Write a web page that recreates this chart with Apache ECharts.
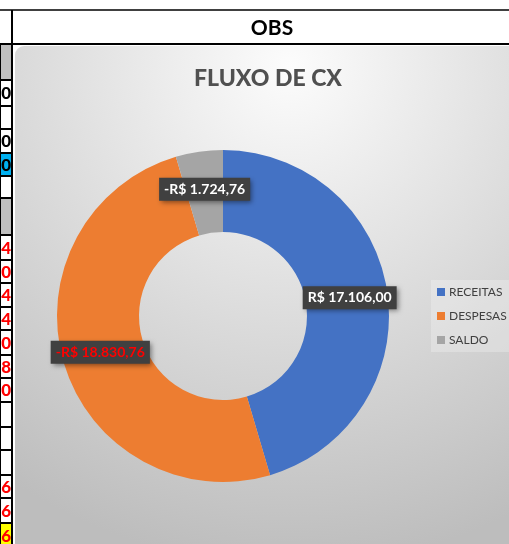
<!DOCTYPE html>
<html>
<head>
<meta charset="utf-8">
<script src="https://cdn.jsdelivr.net/npm/echarts@6/dist/echarts.min.js"></script>
<style>
  html, body { margin: 0; padding: 0; background: #fff; }
  #chart { width: 509px; height: 544px; }
</style>
</head>
<body>
<div id="chart"></div>
<script>
// dados do gráfico
const categorias = ["RECEITAS", "DESPESAS", "SALDO"];
const valores = [17106.0, -18830.76, -1724.76];
const cores = ["#4472C4", "#ED7D31", "#A5A5A5"];
const corRotulo = ["#ffffff", "#ff0000", "#ffffff"];

// pedaços das células da planilha à esquerda (só decoração)
const celulasEsq = [
  [44, 80, "#bfbfbf", ""],
  [80, 106, "#ffffff", "0", "#000"],
  [106, 129, "#ffffff", ""],
  [129, 153, "#ffffff", "0", "#000"],
  [153, 176, "#00b0f0", "0", "#000"],
  [176, 198, "#ffffff", ""],
  [198, 235, "#bfbfbf", ""],
  [235, 260, "#ffffff", "4", "#ff0000"],
  [260, 283, "#ffffff", "0", "#ff0000"],
  [283, 307, "#ffffff", "4", "#ff0000"],
  [307, 330, "#ffffff", "4", "#ff0000"],
  [330, 355, "#ffffff", "0", "#ff0000"],
  [355, 378, "#ffffff", "8", "#ff0000"],
  [378, 402, "#ffffff", "0", "#ff0000"],
  [402, 427, "#ffffff", ""],
  [427, 450, "#ffffff", ""],
  [450, 475, "#ffffff", ""],
  [475, 498, "#ffffff", "6", "#ff0000"],
  [498, 523, "#ffffff", "6", "#ff0000"],
  [523, 548, "#ffff00", "6", "#ff0000"]
];

function formatBRL(v) {
  let s = Math.abs(v).toFixed(2).split(".");
  let inteiro = s[0].replace(/\B(?=(\d{3})+(?!\d))/g, ".");
  return (v < 0 ? "-" : "") + "R$ " + inteiro + "," + s[1];
}

let chart = echarts.init(document.getElementById("chart"));

let graficos = [];
// fundo da área do gráfico
graficos.push({
  type: "rect",
  z: -10,
  shape: { x: 15, y: 46, width: 500, height: 505, r: [9, 0, 0, 0] },
  style: {
    fill: new echarts.graphic.RadialGradient(0.55, 0.04, 1.0, [
      { offset: 0, color: "#fcfcfc" },
      { offset: 1, color: "#bdbdbd" }
    ])
  }
});
celulasEsq.forEach((c) => {
  graficos.push({
    type: "rect",
    z: -5,
    shape: { x: 0, y: c[0], width: 12, height: c[1] - c[0] },
    style: { fill: c[2], stroke: "#000", lineWidth: 2 }
  });
  if (c[3]) {
    graficos.push({
      type: "text",
      z: -4,
      x: 11,
      y: (c[0] + c[1]) / 2 + 1,
      style: {
        text: c[3],
        fill: c[4],
        font: "900 17px Lato",
        align: "right",
        verticalAlign: "middle"
      }
    });
  }
});
// linhas do cabeçalho
graficos.push({
  type: "line", z: -4,
  shape: { x1: 0, y1: 10, x2: 509, y2: 10 },
  style: { stroke: "#000", lineWidth: 1.5 }
});
graficos.push({
  type: "line", z: -4,
  shape: { x1: 0, y1: 44, x2: 509, y2: 44 },
  style: { stroke: "#000", lineWidth: 2 }
});
graficos.push({
  type: "line", z: -4,
  shape: { x1: 12, y1: 10, x2: 12, y2: 544 },
  style: { stroke: "#000", lineWidth: 2 }
});
graficos.push({
  type: "text", z: -4,
  x: 272, y: 28,
  style: {
    text: "OBS",
    fill: "#000",
    font: "bold 21px Lato",
    align: "center",
    verticalAlign: "middle"
  }
});

let option = {
  backgroundColor: "#ffffff",
  color: cores,
  title: {
    text: "FLUXO DE CX",
    left: 263,
    top: 62,
    textAlign: "center",
    textStyle: {
      color: "#505050",
      fontFamily: "Lato",
      fontWeight: 900,
      fontSize: 23
    }
  },
  legend: {
    orient: "vertical",
    left: 431,
    top: 280,
    padding: [6, 6],
    backgroundColor: "rgba(255,255,255,0.25)",
    itemWidth: 8,
    itemHeight: 8,
    itemGap: 12,
    icon: "rect",
    data: categorias,
    textStyle: {
      color: "#404040",
      fontFamily: "Lato",
      fontSize: 12,
      padding: [0, 0, 0, -1]
    }
  },
  graphic: graficos,
  series: [
    {
      name: "FLUXO DE CX",
      type: "pie",
      center: [223, 316],
      radius: [84, 166],
      startAngle: 90,
      clockwise: true,
      avoidLabelOverlap: false,
      emphasis: { disabled: true },
      label: {
        show: true,
        position: "inside",
        formatter: (p) => formatBRL(valores[p.dataIndex]),
        fontFamily: "Lato",
        fontWeight: "bold",
        fontSize: 14,
        backgroundColor: "#404040",
        padding: [5, 5, 4, 5],
        shadowColor: "rgba(0,0,0,0.45)",
        shadowBlur: 5,
        shadowOffsetX: 2,
        shadowOffsetY: 2
      },
      labelLine: { show: false },
      data: categorias.map((nome, i) => ({
        name: nome,
        value: Math.abs(valores[i]),
        label: { color: corRotulo[i] }
      }))
    }
  ]
};
chart.setOption(option);
</script>
</body>
</html>
